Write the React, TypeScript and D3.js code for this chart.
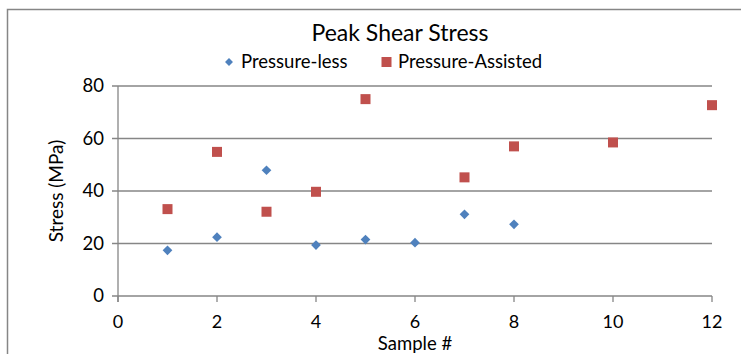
import React from 'react';
import * as d3 from 'd3';

const samplesLess = [1, 2, 3, 4, 5, 6, 7, 8];
const stressLess = [17.4, 22.4, 47.9, 19.4, 21.5, 20.3, 31.1, 27.3];
const samplesAssisted = [1, 2, 3, 4, 5, 7, 8, 10, 12];
const stressAssisted = [33.1, 54.9, 32.1, 39.7, 75.0, 45.2, 57.0, 58.5, 72.7];
const xTicks = [0, 2, 4, 6, 8, 10, 12];
const yTicks = [0, 20, 40, 60, 80];

const FONT = "Lato, 'Open Sans', sans-serif";
const GRID = '#868686';
const BLUE = '#4F81BD';
const RED = '#C0504D';

const App: React.FC = () => {
  const width = 741;
  const height = 354;
  const x = d3.scaleLinear().domain([0, 12]).range([118, 712]);
  const y = d3.scaleLinear().domain([0, 80]).range([296, 86]);

  const diamond = d3.symbol().type(d3.symbolDiamond2).size(60)();
  const smallDiamond = d3.symbol().type(d3.symbolDiamond2).size(40)();

  return (
    <div style={{ position: 'absolute', left: 0, top: 0 }}>
      <svg width={width} height={height} style={{ display: 'block', background: '#fff' }}>
        {/* chart frame */}
        <rect x={7.5} y={9.5} width={740} height={360} fill="#fff" stroke={GRID} strokeWidth={1.5} />

        {/* gridlines */}
        {yTicks.map(t => (
          <g key={'y' + t}>
            <line x1={112} x2={712} y1={y(t)} y2={y(t)} stroke={GRID} strokeWidth={1.3} />
            <text x={104} y={y(t)} dy="0.35em" textAnchor="end" fontFamily={FONT} fontSize={18.5} fill="#000">{t}</text>
          </g>
        ))}
        <line x1={x(0)} x2={x(0)} y1={y(80)} y2={y(0) + 6} stroke={GRID} strokeWidth={1.3} />
        {xTicks.map(t => (
          <g key={'x' + t}>
            <line x1={x(t)} x2={x(t)} y1={y(0)} y2={y(0) + 6} stroke={GRID} strokeWidth={1.3} />
            <text x={x(t)} y={322} dy="0.35em" textAnchor="middle" fontFamily={FONT} fontSize={18} fill="#000">{t}</text>
          </g>
        ))}

        {/* markers */}
        {samplesLess.map((s, i) => (
          <path key={'l' + i} d={diamond || ''} transform={`translate(${x(s)},${y(stressLess[i])})`} fill={BLUE} />
        ))}
        {samplesAssisted.map((s, i) => (
          <rect key={'a' + i} x={x(s) - 5} y={y(stressAssisted[i]) - 5} width={10} height={10} fill={RED} />
        ))}

        {/* titles */}
        <text x={400} y={33} dy="0.35em" textAnchor="middle" fontFamily={FONT} fontSize={23} fill="#000">Peak Shear Stress</text>
        <path d={smallDiamond || ''} transform="translate(229,62)" fill={BLUE} />
        <text x={241} y={62} dy="0.35em" fontFamily={FONT} fontSize={18.5} fill="#000">Pressure-less</text>
        <rect x={381.5} y={57} width={10} height={10} fill={RED} />
        <text x={398} y={62} dy="0.35em" fontFamily={FONT} fontSize={18.5} fill="#000">Pressure-Assisted</text>

        <text transform="translate(56,191) rotate(-90)" dy="0.35em" textAnchor="middle" fontFamily={FONT} fontSize={19} fill="#000">Stress (MPa)</text>
        <text x={415} y={344} dy="0.35em" textAnchor="middle" fontFamily={FONT} fontSize={18.5} fill="#000">Sample #</text>
      </svg>
    </div>
  );
};

export default App;
